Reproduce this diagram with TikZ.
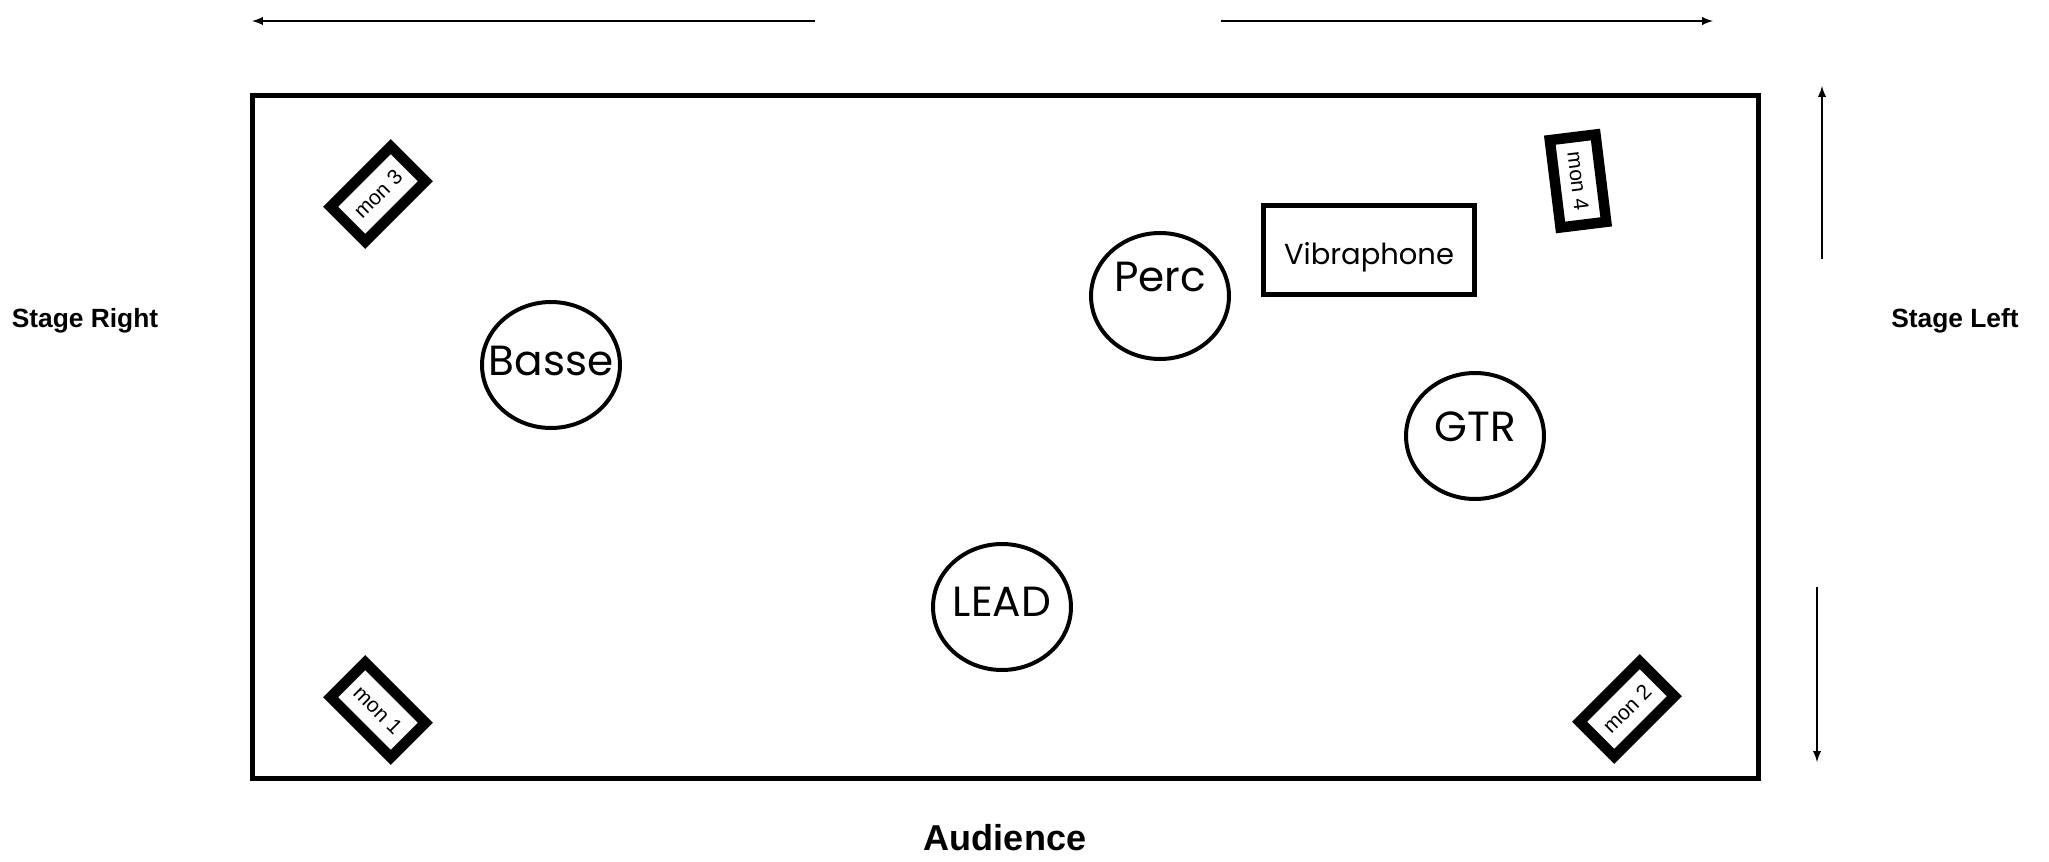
\documentclass[tikz,border=0pt]{standalone}
\usepackage{fontspec}
\setmainfont{Liberation Sans}
\newfontfamily\geofont{Poppins}
\usetikzlibrary{
    arrows,
    calc,
    shapes,
}

\begin{document}
\begin{tikzpicture}[x=0.02cm, y=-0.02cm,
    main/.style = {draw, ellipse, line width=0.08cm, minimum width=2.76cm, minimum height=2.52cm, inner sep=0pt},
    player/.style = {font=\geofont\fontsize{24}{27}\selectfont},
    mon/.style = {draw, line width=0.21cm, minimum width=1.7cm, minimum height=0.98cm, inner sep=0pt, font=\fontsize{12}{14}\selectfont},
    side/.style = {font=\bfseries\fontsize{15}{18}\selectfont, anchor=base},
    dir/.style = {line width=0.04cm, -latex}]
    \useasboundingbox (0,0) rectangle (2049,862);
    \draw[line width=0.1cm] (252,95) rectangle (1758,778);

    \node[main] (basse) at (551,365) {};
    \node[main] (perc)  at (1160,296) {};
    \node[main] (gtr)   at (1475,436) {};
    \node[main] (lead)  at (1002,607) {};
    \node[player] (basseT) at ($(basse)+(0,-4)$) {Basse};
    \node[player] (percT)  at ($(perc)+(0,-19)$) {Perc};
    \node[player] (gtrT)   at ($(gtr)+(0,-9)$)   {GTR};
    \node[player] (leadT)  at ($(lead)+(0,-5)$)  {LEAD};
    \node[draw, line width=0.1cm, minimum width=4.22cm, minimum height=1.8cm] (vib) at (1369,250) {};
    \node[font=\geofont\fontsize{16.5}{19}\selectfont] (vibT) at ($(vib)+(0,7)$) {Vibraphone};

    \node[mon, rotate=45]  (mon3) at (378,194)  {mon 3};
    \node[mon, rotate=-83, minimum width=1.76cm, minimum height=0.92cm] (mon4) at (1578,181) {mon 4};
    \node[mon, rotate=-45] (mon1) at (378,710)  {mon 1};
    \node[mon, rotate=45]  (mon2) at (1627,709) {mon 2};

    \node[side] (right) at (85,327)  {Stage Right};
    \node[side] (left)  at (1955,327) {Stage Left};
    \node[side, font=\bfseries\fontsize{20.5}{24}\selectfont] (aud) at (1005,850) {Audience};

    \coordinate (tl1) at (815,21);
    \coordinate (tl2) at (252,21);
    \coordinate (tr1) at (1221,21);
    \coordinate (tr2) at (1713,21);
    \coordinate (up1) at (1822,259);
    \coordinate (up2) at (1822,86);
    \coordinate (dn1) at (1817,587);
    \coordinate (dn2) at (1817,762);
    \draw[dir] (tl1) -- (tl2);
    \draw[dir] (tr1) -- (tr2);
    \draw[dir] (up1) -- (up2);
    \draw[dir] (dn1) -- (dn2);
\end{tikzpicture}
\end{document}
